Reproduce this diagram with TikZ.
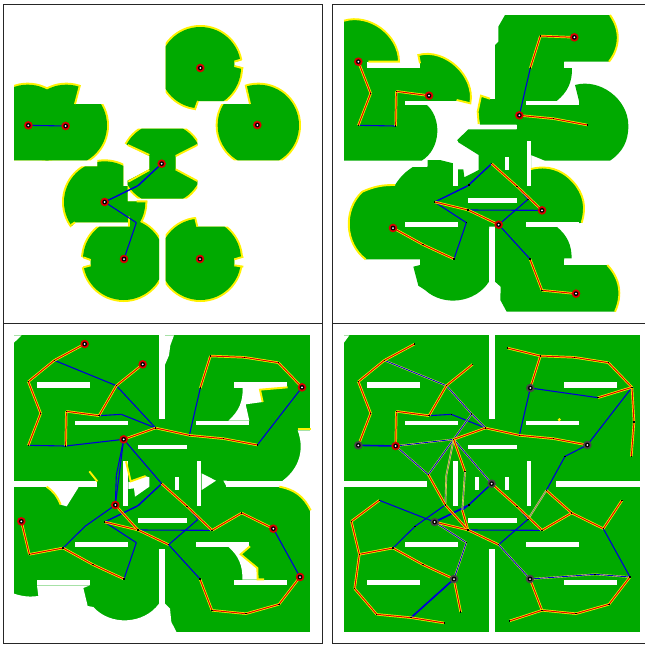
\documentclass[tikz,border=0pt]{standalone}
\definecolor{freegreen}{RGB}{0,170,0}
\definecolor{pathblue}{RGB}{0,0,215}
\tikzset{
  frame/.style={draw=black!85,line width=1pt,fill=white},
  covered/.style={fill=freegreen},
  frontier/.style={draw=yellow,line width=1.9pt},
  plainleg/.style={draw=pathblue,line width=1.1pt},
  thickleg/.style={draw=pathblue,line width=1.6pt},
  roadleg/.style={draw=yellow,double=red!90!black,double distance=1pt,line width=.7pt},
  haloleg/.style={draw=yellow!75!white,double=pathblue,double distance=.9pt,line width=.4pt},
  grayleg/.style={draw=yellow!75!white,double=black!50,double distance=.9pt,line width=.4pt},
  waypoint/.style={rectangle,fill=black,inner sep=0pt,minimum size=1.6pt},
  robot/.style={circle,fill=red!85!black,inner sep=0pt,minimum size=8.6pt,
    path picture={\fill[black] (path picture bounding box.center) circle (2.4pt);
      \fill[white] (path picture bounding box.center) circle (1pt);}},
  idlebot/.style={robot,fill=black!72}
}
\newcommand\route{\foreach \n/\x/\y in {1/254/66,2/163/115,3/85/179,4/122/274,5/85/370,6/197/372,7/199/268,8/297/281,
  9/349/191,10/428/127,11/425/276,12/467/318,13/371/352,14/364/277,15/405/449,16/295/458,17/346/549,18/349/460,
  19/417/549,20/414/624,21/314/600,22/485/485,23/506/668,24/561/553,25/594/592,26/636/625,27/725/573,28/820/620,
  29/876/535,30/649/505,31/705/403,32/772/369,33/906/196,34/804/227,35/601/198,36/568/340,37/671/350,38/835/122,
  39/733/106,40/631/102,41/532/78,42/912/300,43/904/403,44/900/765,45/795/757,46/600/771,47/636/865,48/738/875,
  49/837/847,50/538/897,51/409/662,52/372/771,53/279/728,54/189/678,55/88/697,56/64/598,57/148/535,58/255/613,
  59/74/800,60/140/877,61/243/887,62/343/903,63/392/870,64/411/553,65/397/565}{\coordinate (w\n) at (\x,\y);}}
\newcommand\legs[2]{\foreach \a/\b in {#2}{\draw[#1] (w\a) -- (w\b);}}
\newcommand\stops[1]{\foreach \n in {#1}{\node[waypoint] (dot\n) at (w\n) {};}}
\newcommand\robots[2]{\foreach \n in {#2}{\node[#1] (bot\n) at (w\n) {};}}
\newcommand\bars{\foreach \a/\b/\c/\d in {111/181/270/197,225/296/383/309,413/368/560/381,589/296/747/309,702/181/861/197,
  42/476/292/494,679/476/930/494,477/40/495/290,477/680/495/930,369/418/383/552,590/418/603/552,525/465/537/505,
  413/588/560/602,225/661/383/674,589/661/747/674,111/773/270/790,702/773/861/790}{\fill[white] (\a,\b) rectangle (\c,\d);}}
\newcommand\view[3]{\begin{scope}\clip #3;\fill[\viewcol] (#1,#2) circle (\viewrad);\end{scope}}
\newcommand\firstviews{
  \view{601}{203}{(497,60)--(760,60)--(760,172)--(703,186)--(703,197)--(760,210)--(760,303)--(594,303)--(582,345)--(497,345)--cycle}
  \view{83}{376}{(42,230)--(245,230)--(225,312)--(340,312)--(340,481)--(42,481)--cycle}
  \view{199}{376}{(42,230)--(245,230)--(225,312)--(340,312)--(340,481)--(42,481)--cycle}
  \view{775}{376}{(733,240)--(920,240)--(920,481)--(640,481)--(640,312)--(750,312)--cycle}
  \view{487}{491}{(355,386)--(592,386)--(592,435)--(527,468)--(527,508)--(592,543)--(592,596)--(383,596)--(383,542)--(448,508)--(448,468)--(383,435)--(355,420)--cycle}
  \view{314}{606}{(170,499)--(292,499)--(292,470)--(370,470)--(370,558)--(383,558)--(383,604)--(445,604)--(445,667)--(225,667)--(205,690)--(170,690)--cycle}
  \view{371}{778}{(235,680)--(385,680)--(385,640)--(477,640)--(477,950)--(235,950)--(235,805)--(272,796)--(272,780)--(235,768)--cycle}
  \view{601}{778}{(497,640)--(582,640)--(592,680)--(750,680)--(750,766)--(703,776)--(703,796)--(750,805)--(750,950)--(497,950)--cycle}
}
\begin{document}
\begin{tikzpicture}[x=0.33333pt,y=-0.33333pt]
\useasboundingbox (0,0) rectangle (1935,1938);
% first panel
\draw[frame] (9,14) rectangle (966,970);
\def\viewcol{yellow}\def\viewrad{128}\firstviews
\def\viewcol{freegreen}\def\viewrad{122}\firstviews
\draw[frontier] (725,178)--(703,185) (703,198)--(730,205) (594,303)--(584,330) (240,255)--(225,312)
  (737,255)--(750,312) (383,435)--(448,465) (527,468)--(592,435) (527,508)--(592,543) (448,510)--(385,545)
  (225,667)--(213,675) (410,604)--(442,604) (387,650)--(387,680) (272,780)--(250,772) (272,796)--(250,802)
  (585,652)--(592,680) (703,778)--(730,770) (703,796)--(730,800);
\begin{scope}[shift={(0,6)}]
\route
\legs{plainleg}{22/19,19/21,22/64,64/21,21/51,51/52,5/6}
\robots{robot}{5,6,21,22,52,35,32,46}
\end{scope}
% second panel
\begin{scope}[shift={(990,6)}]
\draw[frame] (7,8) rectangle (966,964);
\end{scope}
\begin{scope}[shift={(975,0)}]
\fill[covered] (57,62) to[bend left=53] (222,185) -- (222,190) -- (285,190) -- (280,165) to[bend left=58] (436,310)
  -- (395,300) -- (395,310) -- (300,310) to[bend left=56] (290,482) -- (57,482) -- cycle;
\fill[covered] (540,45) -- (855,45) to[bend left=37] (852,185) -- (717,185) -- (717,203) -- (741,203)
  to[bend left=26] (695,303) -- (762,303) -- (750,255) to[bend left=53] (910,377) to[bend left=28] (855,482)
  -- (660,482) -- (618,465) -- (618,507) to[bend left=30] (743,544) to[bend left=30] (770,668) -- (695,680)
  to[bend left=25] (740,775) -- (717,775) -- (717,795) -- (847,795) to[bend left=34] (870,935) -- (545,935)
  -- (526,900) -- (527,860) -- (510,845) -- (510,680) -- (492,680) -- (492,845) to[bend left=50] (300,870)
  -- (280,857) -- (265,800) -- (285,795) -- (285,778) -- (122,778) to[bend left=50] (112,575)
  to[bend left=12] (210,555) to[bend left=12] (265,500) -- (308,500) -- (308,480) -- (345,480) -- (385,490)
  -- (385,558) -- (397,558) -- (397,508) -- (415,508) -- (418,532) -- (461,510) -- (461,465) -- (397,425)
  -- (397,420) -- (430,388) -- (575,388) -- (575,374) -- (465,374) -- (458,335) -- (468,287) -- (495,296)
  -- (510,296) -- (510,135) -- (520,125) -- (520,80) -- cycle;
\end{scope}
\begin{scope}[shift={(990,6)}]
\bars
\end{scope}
\begin{scope}[shift={(975,0)}]
\draw[frontier] (57,62) to[bend left=53] (222,185) -- (130,185);
\draw[frontier] (285,190) -- (280,165) to[bend left=58] (436,310) -- (395,300);
\draw[frontier] (855,45) to[bend left=37] (852,185);
\draw[frontier] (618,507) to[bend left=30] (743,544) to[bend left=30] (770,668);
\draw[frontier] (847,795) to[bend left=34] (870,935);
\draw[frontier] (122,778) to[bend left=50] (112,575) to[bend left=12] (210,555);
\draw[frontier] (495,296) -- (468,287) -- (458,335) -- (461,372);
\end{scope}
\begin{scope}[shift={(990,6)}]
\route
\legs{plainleg}{35/36,22/19,19/21,22/64,64/21,26/20,21/51,51/52,23/25,25/24,23/46,5/6}
\legs{roadleg}{3/4,4/5,6/7,7/8,39/40,40/35,36/37,37/32,22/24,24/26,21/20,20/23,52/53,53/54,46/47,47/48}
\stops{4,5,6,7,40,35,37,32,22,24,20,21,51,52,53,25,19,46,47}
\robots{robot}{3,8,39,36,26,23,48,54}
\end{scope}
% third panel
\begin{scope}[shift={(0,966)}]
\draw[frame] (9,5) rectangle (966,965);
\fill[covered] (42,40) rectangle (930,930);
\bars
\fill[white] (42,62) -- (42,40) -- (65,40) -- cycle;
\fill[white] (495,40) -- (522,40) -- (511,70) -- (507,100) -- (495,128) -- cycle;
\fill[white] (728,197) to[bend left=25] (685,296) -- (748,296) -- (737,247) -- (788,240) -- (780,203) -- (863,197) -- cycle;
\fill[white] (893,325) -- (931,325) -- (931,482) -- (848,482) -- (848,476) to[bend right=37] (893,325) -- cycle;
\fill[white] (838,488) -- (838,494) to[bend left=27] (931,565) -- (931,488) -- cycle;
\fill[white] (137,488) -- (137,494) to[bend left=16] (182,548) -- (200,553) -- (235,497) -- (235,488) -- cycle;
\fill[white] (385,480) -- (392,479) -- (435,462) -- (448,466) -- (448,494) -- (405,524) -- (402,499) -- (385,501) -- cycle;
\fill[white] (605,454) -- (648,476) -- (605,504) -- cycle;
\fill[white] (670,476) -- (680,476) -- (686,494) -- (680,494) -- cycle;
\fill[white] (685,674) -- (750,674) -- (722,697) -- (770,738) -- (773,773) -- (727,773) to[bend right=25] (685,674) -- cycle;
\fill[white] (42,815) to[bend right=12] (115,822) -- (111,790) -- (270,790) -- (250,798) -- (263,852) -- (280,855)
  to[bend right=51] (477,845) -- (477,931) -- (41,931) -- cycle;
\fill[white] (495,845) -- (510,860) -- (514,900) -- (530,931) -- (495,931) -- cycle;
\draw[frontier] (863,196) -- (780,203) -- (788,240);
\draw[frontier] (893,322) -- (932,322);
\draw[frontier] (838,494) to[bend left=27] (932,565);
\draw[frontier] (140,494) to[bend left=16] (182,548);
\draw[frontier] (268,448) -- (292,478);
\draw[frontier] (378,418) -- (392,478) -- (437,462);
\draw[frontier] (750,673) -- (722,697) -- (772,738) -- (773,772) -- (792,772);
\route
\legs{plainleg}{2/9,9/12,8/14,14/12,6/13,36/35,33/32,13/18,18/17,13/17,13/22,22/19,19/21,22/64,64/21,20/26,21/51,51/52,17/58,58/54,23/25,25/24,23/46,28/44,5/6}
\legs{roadleg}{1/2,2/3,3/4,4/5,6/7,7/8,8/9,9/10,12/13,12/36,36/37,37/32,35/40,40/39,39/38,38/33,22/24,24/26,26/27,27/28,44/49,49/48,48/47,47/46,23/20,20/21,20/17,52/53,53/54,54/55,55/56}
\stops{2,3,4,5,6,7,8,9,12,36,37,32,35,40,39,38,22,24,26,27,49,48,47,46,23,20,21,52,53,54,55}
\robots{robot}{1,10,13,17,56,33,28,44}
\end{scope}
% fourth panel
\begin{scope}[shift={(990,966)}]
\draw[frame] (7,5) rectangle (966,965);
\fill[covered] (42,40) rectangle (930,930);
\bars
\fill[white] (42,62) -- (42,40) -- (58,40) -- cycle;
\fill[white] (435,465) rectangle (446,505);
\fill[yellow] (688,293) circle (5);
\route
\legs{plainleg}{8/14,14/12,35/34,35/36,33/32,32/31,31/30,30/25,25/23,17/58,58/54,57/21,22/19,19/21,22/64,64/21,65/64,20/26,28/44,52/61,25/24}
\legs{thickleg}{21/19,52/61,5/6}
\legs{haloleg}{2/9,9/11,11/12,6/13,6/16,16/11,13/22,21/51,51/52,23/46,46/45,45/44}
\legs{grayleg}{13/18,18/17,15/65,30/25}
\legs{roadleg}{1/2,2/3,3/4,4/5,6/7,7/8,8/9,9/10,12/13,12/36,36/37,37/32,35/40,40/41,40/39,39/38,38/33,33/42,42/43,33/34,
  13/15,65/20,16/17,17/20,20/21,20/23,22/24,24/26,26/27,27/28,28/29,27/30,46/47,47/48,48/49,49/44,47/50,54/53,53/52,52/63,54/55,55/56,56/57,55/59,59/60,60/61,61/62}
\stops{1,2,3,4,7,8,9,10,11,12,13,14,15,16,17,19,20,23,24,25,26,27,28,29,30,31,33,34,36,37,38,39,40,41,42,43,44,45,47,48,49,50,51,53,54,55,56,57,58,59,60,61,62,63}
\robots{idlebot}{5,21,22,32,35,46,52}
\robots{robot}{6}
\end{scope}
\end{tikzpicture}
\end{document}
